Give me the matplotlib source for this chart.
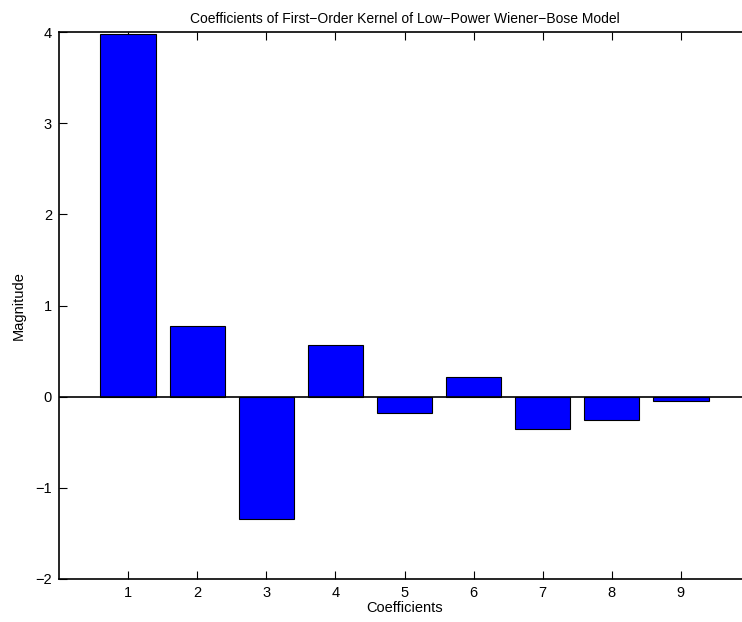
import matplotlib
matplotlib.use("Agg")
import matplotlib.pyplot as plt

coef_index = [1, 2, 3, 4, 5, 6, 7, 8, 9]
magnitude = [3.98, 0.78, -1.346, 0.571, -0.18, 0.22, -0.36, -0.255, -0.048]
xtick_labels = ["1", "2", "3", "4", "5", "6", "7", "8", "9"]
ytick_values = [-2, -1, 0, 1, 2, 3, 4]

plt.rcParams['font.family'] = ['Liberation Sans', 'DejaVu Sans']
plt.rcParams['font.size'] = 10.5

fig = plt.figure(figsize=(7.42, 6.22), dpi=100)
W, H = 742, 622
left, right, top, bottom = 59, 750, 32.3, 578.7
ax = fig.add_axes([left / W, 1 - bottom / H, (right - left) / W, (bottom - top) / H])

ax.bar(coef_index, magnitude, width=0.8, color='#0000ff', edgecolor='black', linewidth=0.8, zorder=2)
ax.axhline(0, color='black', linewidth=1.2, zorder=3)

ax.set_xlim(0, 10)
ax.set_ylim(-2, 4)
ax.set_xticks(coef_index)
ax.set_xticklabels(xtick_labels)
ax.set_yticks(ytick_values)
ax.set_yticklabels([str(v).replace('-', '\u2212') for v in ytick_values])
ax.tick_params(direction='in', length=6, width=0.8, top=True, right=False, pad=5)
ax.spines['right'].set_visible(False)
for s in ax.spines.values():
    s.set_linewidth(1.2)

ax.set_title('Coefficients of First\u2212Order Kernel of Low\u2212Power Wiener\u2212Bose Model', fontsize=10, pad=7)
ax.set_xlabel('Coefficients', labelpad=1)
ax.set_ylabel('Magnitude', labelpad=7)

fig.savefig('out.png', dpi=100)
